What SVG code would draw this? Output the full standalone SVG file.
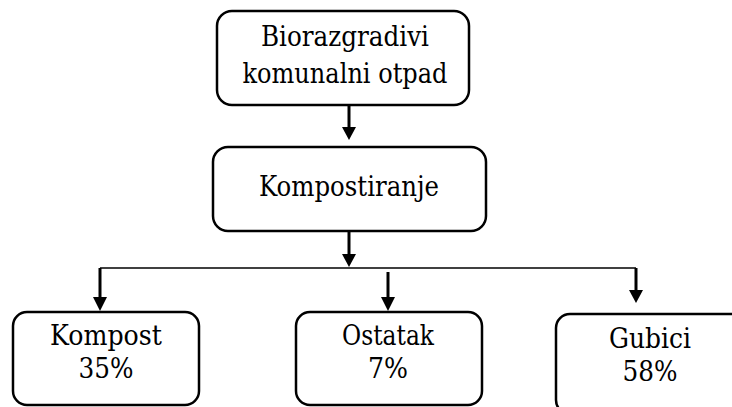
<svg xmlns="http://www.w3.org/2000/svg" width="732" height="407" viewBox="0 0 732 407">
<style>
.box{fill:#fff;stroke:#000;stroke-width:2.5}
.t{font-family:'DejaVu Serif',serif;font-size:27px;fill:#000;text-anchor:middle}
.shaft{stroke:#000;stroke-width:3;fill:none}
.thin{stroke:#000;stroke-width:1.5;fill:none}
.head{fill:#000}
</style>
<rect width="732" height="407" fill="#fff"/>
<g id="connectors">
<line class="shaft" x1="349" y1="105" x2="349" y2="128"/>
<path class="head" d="M342 127 L356 127 L349 140 Z"/>
<line class="shaft" x1="349" y1="231" x2="349" y2="255"/>
<path class="head" d="M342 254 L356 254 L349 267 Z"/>
<line class="thin" x1="100" y1="268" x2="636" y2="268"/>
<line class="shaft" x1="100" y1="268" x2="100" y2="298"/>
<path class="head" d="M93 297 L107 297 L100 311 Z"/>
<line class="shaft" x1="388" y1="272" x2="388" y2="298"/>
<path class="head" d="M381 297 L395 297 L388 311 Z"/>
<line class="shaft" x1="636" y1="268" x2="636" y2="291"/>
<path class="head" d="M629 290 L643 290 L636 303 Z"/>
</g>
<g id="n1">
<rect class="box" x="217" y="11" width="252" height="94" rx="15"/>
<text class="t" x="345" y="46" textLength="168" lengthAdjust="spacingAndGlyphs">Biorazgradivi</text>
<text class="t" x="345" y="83" textLength="205" lengthAdjust="spacingAndGlyphs">komunalni otpad</text>
</g>
<g id="n2">
<rect class="box" x="213" y="147" width="273" height="84" rx="15"/>
<text class="t" x="349" y="196" textLength="180" lengthAdjust="spacingAndGlyphs">Kompostiranje</text>
</g>
<g id="n3">
<rect class="box" x="13" y="312" width="186" height="93" rx="14"/>
<text class="t" x="106" y="345" textLength="112" lengthAdjust="spacingAndGlyphs">Kompost</text>
<text class="t" x="106" y="378" textLength="55" lengthAdjust="spacingAndGlyphs">35%</text>
</g>
<g id="n4">
<rect class="box" x="296" y="312" width="186" height="93" rx="14"/>
<text class="t" x="388" y="345" textLength="92" lengthAdjust="spacingAndGlyphs">Ostatak</text>
<text class="t" x="388" y="378" textLength="40" lengthAdjust="spacingAndGlyphs">7%</text>
</g>
<g id="n5">
<rect class="box" x="556" y="314" width="190" height="100" rx="14"/>
<text class="t" x="650" y="348" textLength="82" lengthAdjust="spacingAndGlyphs">Gubici</text>
<text class="t" x="650" y="381" textLength="55" lengthAdjust="spacingAndGlyphs">58%</text>
</g>
</svg>
